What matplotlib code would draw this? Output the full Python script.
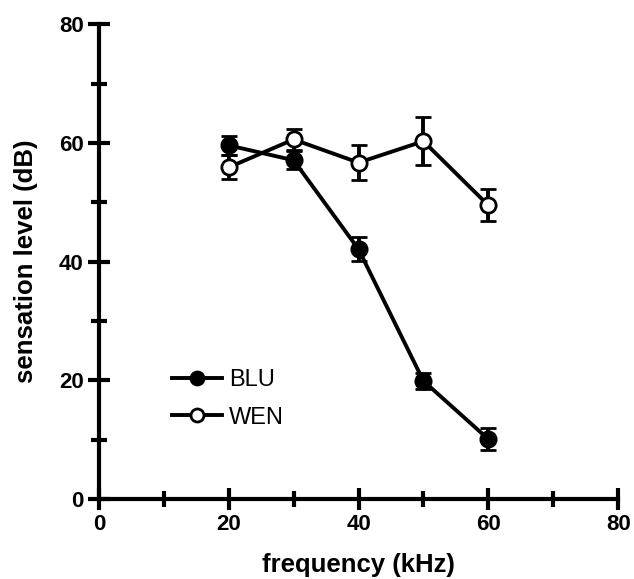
import matplotlib.pyplot as plt
import numpy as np

freq = [20, 30, 40, 50, 60]
blu = [59.6, 57.1, 42.1, 19.9, 10.1]
blu_err = [1.6, 1.5, 2.0, 1.3, 1.8]
wen = [55.9, 60.6, 56.7, 60.3, 49.5]
wen_err = [2.0, 1.7, 3.0, 4.0, 2.7]

plt.rcParams['font.family'] = ['Liberation Sans', 'DejaVu Sans']

fig = plt.figure(figsize=(6.34, 5.79), dpi=100)
ax = fig.add_axes([0.156, 0.138, 0.819, 0.820])

ax.errorbar(freq, blu, yerr=blu_err, color='k', lw=2.8, marker='o', ms=11,
            mfc='k', mec='k', mew=2, capsize=6, capthick=2.8, elinewidth=2.8,
            label='BLU', clip_on=False, zorder=3)
ax.errorbar(freq, wen, yerr=wen_err, color='k', lw=2.8, marker='o', ms=11,
            mfc='white', mec='k', mew=2, capsize=6, capthick=2.8, elinewidth=2.8,
            label='WEN', clip_on=False, zorder=3)

ax.set_xlim(0, 80)
ax.set_ylim(0, 80)
ax.set_xticks(np.arange(0, 81, 20))
ax.set_yticks(np.arange(0, 81, 20))
ax.set_xticks(np.arange(10, 80, 20), minor=True)
ax.set_yticks(np.arange(10, 80, 20), minor=True)

for s in ['top', 'right']:
    ax.spines[s].set_visible(False)
for s in ['left', 'bottom']:
    ax.spines[s].set_linewidth(3)

ax.tick_params(which='major', direction='inout', length=16, width=3, labelsize=16, pad=3)
ax.tick_params(which='minor', direction='inout', length=11, width=3)
for lab in ax.get_xticklabels() + ax.get_yticklabels():
    lab.set_fontweight('bold')

ax.set_xlabel('frequency (kHz)', fontsize=18.5, fontweight='bold', labelpad=13)
ax.set_ylabel('sensation level (dB)', fontsize=18.5, fontweight='bold', labelpad=15)

# legend without error bars
h, l = ax.get_legend_handles_labels()
h = [hh[0] for hh in h]
ax.legend(h, l, loc='upper left', bbox_to_anchor=(0.1, 0.318), frameon=False,
          fontsize=17, handlelength=2.1, handletextpad=0.3, labelspacing=0.65,
          markerscale=0.85)

fig.savefig('out.png', dpi=100)
